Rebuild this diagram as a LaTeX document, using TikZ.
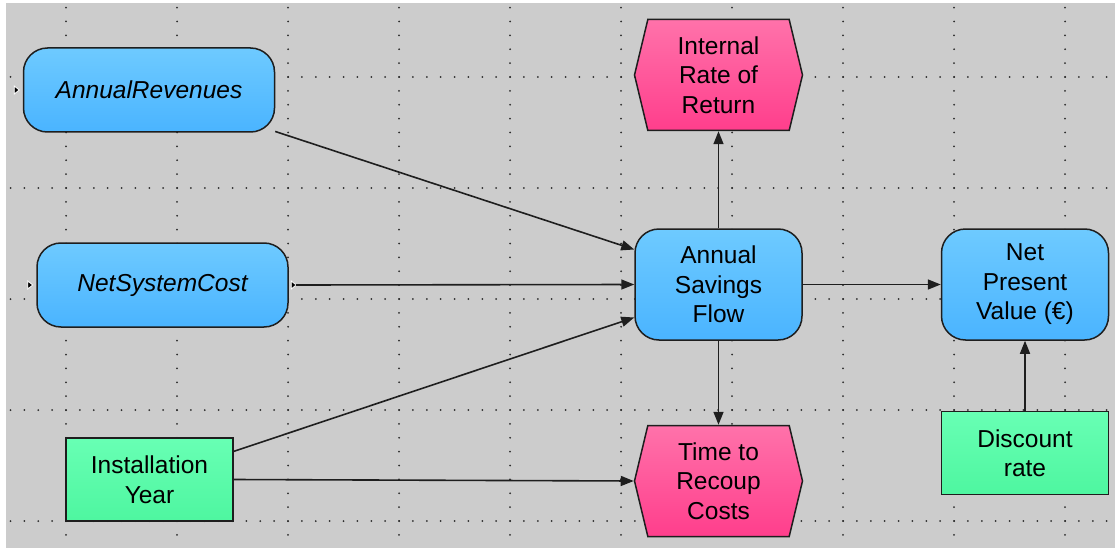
\documentclass[tikz,border=0pt]{standalone}
\usepackage{fontspec}
\setmainfont{Liberation Sans}
\usetikzlibrary{
	positioning,
	arrows.meta,
	shapes.symbols,
	calc}
\definecolor{canvas}{RGB}{204,204,204}
\definecolor{dotgray}{RGB}{45,45,45}
\definecolor{edgegray}{RGB}{30,30,30}
\definecolor{blueTop}{RGB}{110,202,255}
\definecolor{blueBot}{RGB}{74,180,255}
\definecolor{pinkTop}{RGB}{255,114,170}
\definecolor{pinkBot}{RGB}{255,62,140}
\definecolor{greenTop}{RGB}{104,255,180}
\definecolor{greenBot}{RGB}{78,246,160}
\newcommand\portmark[1]{\filldraw[white, fill=black, line width=0.8pt] (#1) ++(-2.5,-4) -- ++(5,4) -- ++(-5,4) -- cycle;}
\tikzset{
	influence/.style={
		x=1pt, y=-1pt,
		font=\fontsize{24.5pt}{29.5pt}\selectfont,
		every node/.style={align=center, text=black, inner sep=0pt},
		},
	grid dots/.style={
		draw=dotgray,
		line width=2pt,
		line cap=round,
		dash pattern=on 0pt off 13.875pt
	},
	formula/.style={
		rectangle,
		rounded corners=24pt,
		draw=edgegray,
		line width=1.5pt,
		top color=blueTop,
		bottom color=blueBot,
		minimum width=167pt,
		minimum height=111pt
	},
	wide formula/.style={
		formula,
		minimum width=251pt,
		minimum height=84pt
	},
	input/.style={
		rectangle,
		draw=edgegray,
		line width=1.5pt,
		top color=greenTop,
		bottom color=greenBot,
		minimum width=167pt,
		minimum height=83pt
	},
	goal/.style={
		signal,
		signal to=west and east,
		signal pointer angle=153,
		draw=edgegray,
		line width=1.5pt,
		top color=pinkTop,
		bottom color=pinkBot,
		minimum width=168pt,
		minimum height=111pt
	},
	link/.style={
		draw=edgegray,
		line width=1.6pt,
		-{Triangle[length=13pt, width=10pt]}
	},
}
\begin{document}
\begin{tikzpicture}[influence]
	\fill[white] (0,0) rectangle (1115,548);
	\fill[canvas] (6,3) rectangle (1115,548);
	\useasboundingbox (0,0) rectangle (1115,548);
	\foreach \gx in {0,...,9}
		\draw[grid dots] ({66+111*\gx},{77-5*13.875}) -- ({66+111*\gx},548);
	\foreach \gy in {0,...,4}
		\draw[grid dots] ({66-4*13.875},{77+111*\gy}) -- (1115,{77+111*\gy});
	\node[wide formula] (ar) at (149,90) {\itshape AnnualRevenues};
	\node[wide formula] (nsc) at (162.5,285) {\itshape NetSystemCost};
	\node[formula] (asf) at (718.5,284.5) {Annual\\Savings\\Flow};
	\node[formula, right=138pt of asf] (npv) {Net\\Present\\Value (€)};
	\node[goal, above=97pt of asf] (irr) {Internal\\Rate of\\Return};
	\node[goal, below=84pt of asf] (trc) {Time to\\Recoup\\Costs};
	\node[input] (iy) at (149.5,479.5) {Installation\\Year};
	\node[input, below=70pt of npv] (dr) {Discount\\rate};
	\coordinate (nscout) at ([xshift=7pt]nsc.east);
	\portmark{[xshift=-6pt]ar.west}
	\portmark{[xshift=-6pt]nsc.west}
	\portmark{[xshift=5pt]nsc.east}
	\draw[link] (ar) -- ([yshift=35pt]asf.west);
	\draw[link] (nscout) -- (asf.west);
	\draw[link] (iy) -- ([yshift=-33pt]asf.west);
	\draw[link] (iy.east) -- (trc.west);
	\draw[link] (asf.north) -- (irr.south);
	\draw[link] (asf.south) -- (trc.north);
	\draw[link] (asf.east) -- (npv.west);
	\draw[link] (dr.north) -- (npv.south);
\end{tikzpicture}
\end{document}
